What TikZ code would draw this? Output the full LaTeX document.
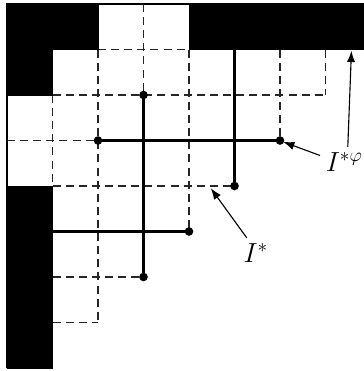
\documentclass[tikz,border=0pt]{standalone}
\usetikzlibrary{arrows.meta}
\begin{document}
\begin{tikzpicture}[x=1cm,y=1cm,
  gridline/.style={line width=0.85pt, dash pattern=on 5pt off 3.2pt, black!85},
  frameline/.style={line width=1.2pt},
  thickline/.style={line width=1.9pt},
  blk/.style={fill=black, draw=black, line width=0.6pt},
  dot/.style={circle, fill=black, inner sep=0pt, minimum size=5.4pt},
  lab/.style={font=\fontsize{18}{21}\selectfont, inner sep=0pt},
  arr/.style={line width=0.7pt, -{Latex[length=7pt,width=5.2pt]}}]
\useasboundingbox (-0.154,0.088) rectangle (7.846,-8.066);
\clip (-0.154,0.088) rectangle (7.846,-8.066);
% frame
\draw[frameline] (0,-8) -- (0,0) -- (8.5,0);
% dashed grid (horizontal)
\draw[gridline] (2,-1) -- (4,-1);
\draw[gridline] (1,-2) -- (7,-2);
\draw[gridline] (0,-3) -- (6,-3);
\draw[gridline] (1,-4) -- (5,-4);
\draw[gridline] (1,-5) -- (4,-5);
\draw[gridline] (1,-6) -- (3,-6);
\draw[gridline] (1,-7) -- (2,-7);
% dashed grid (vertical)
\draw[gridline] (1,-2) -- (1,-4);
\draw[gridline] (2,-1) -- (2,-7);
\draw[gridline] (3,0) -- (3,-6);
\draw[gridline] (4,-1) -- (4,-5);
\draw[gridline] (6,-1) -- (6,-3);
\draw[gridline] (7,-1) -- (7,-2);
% black regions
\fill[blk] (0,0) -- (2,0) -- (2,-1) -- (1,-1) -- (1,-2) -- (0,-2) -- cycle;
\fill[blk] (4,0) -- (8.6,0) -- (8.6,-1) -- (4,-1) -- cycle;
\fill[blk] (0,-4) -- (1,-4) -- (1,-8) -- (0,-8) -- cycle;
% dots
\node[dot] (a1) at (2,-3) {};
\node[dot] (a2) at (6,-3) {};
\node[dot] (b1) at (3,-2) {};
\node[dot] (b2) at (3,-6) {};
\node[dot] (c2) at (5,-4) {};
\node[dot] (d2) at (4,-5) {};
\coordinate (c1) at (5,-1);
\coordinate (d1) at (1,-5);
% thick segments
\draw[thickline] (a1.center) -- (a2.center);
\draw[thickline] (b1.center) -- (b2.center);
\draw[thickline] (c1) -- (c2.center);
\draw[thickline] (d1) -- (d2.center);
% labels
\node[lab, anchor=base west] (lphi) at (7.0,-3.69) {$I^{*\varphi}$};
\node[lab, anchor=base] (lstar) at (5.47,-5.69) {$I^{*}$};
\coordinate (p1) at (7.49,-3.14);
\coordinate (q1) at (7.57,-1.03);
\coordinate (p2) at (6.88,-3.33);
\coordinate (q2) at (6.07,-3.03);
\coordinate (p3) at (5.27,-5.14);
\coordinate (q3) at (4.48,-4.05);
\draw[arr] (p1) -- (q1);
\draw[arr] (p2) -- (q2);
\draw[arr] (p3) -- (q3);
\end{tikzpicture}
\end{document}
